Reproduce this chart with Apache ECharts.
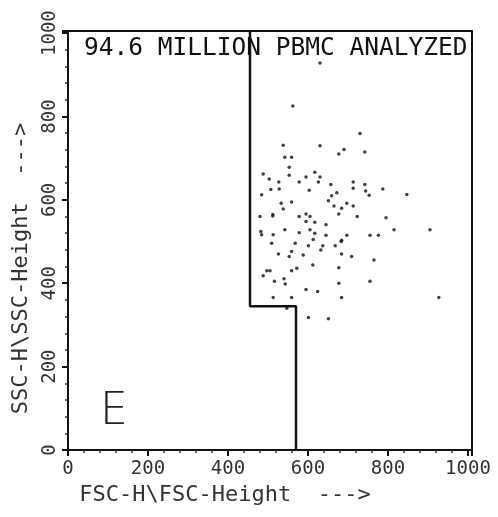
<!DOCTYPE html>
<html>
<head>
<meta charset="utf-8">
<script src="https://cdn.jsdelivr.net/npm/echarts@6/dist/echarts.min.js"></script>
<style>
  html, body { margin: 0; padding: 0; background: #fff; }
  #chart { width: 498px; height: 517px; }
</style>
</head>
<body>
<div id="chart"></div>
<script>
// Events inside the gate: forward scatter (FSC-H) and side scatter (SSC-H)
const fscValues = [
  562, 730, 538, 630, 690, 677, 742, 542, 559, 553, 553, 488, 503, 527, 595, 617,
  630, 578, 626, 657, 713, 742, 713, 787, 528, 507, 603, 744, 753, 847, 484, 672,
  659, 559, 651, 533, 697, 713, 665, 684, 538, 512, 480, 512, 578, 595, 605, 677,
  723, 795, 595, 617, 645, 542, 482, 484, 513, 578, 605, 617, 645, 697, 755, 776,
  815, 905, 613, 684, 509, 568, 601, 637, 668, 683, 632, 559, 588, 526, 553, 684,
  709, 765, 612, 572, 559, 677, 497, 488, 516, 540, 543, 595, 624, 677, 755, 513,
  559, 684, 927, 547, 601, 651, 505, 630
];
const sscValues = [
  825, 759, 731, 730, 721, 710, 715, 702, 702, 678, 659, 662, 650, 643, 655, 666,
  655, 643, 643, 637, 643, 637, 628, 626, 626, 625, 623, 621, 611, 613, 612, 617,
  610, 595, 598, 592, 592, 585, 585, 580, 578, 565, 560, 561, 560, 566, 560, 566,
  560, 557, 548, 546, 540, 528, 524, 516, 516, 521, 528, 520, 515, 515, 515, 515,
  528, 528, 505, 503, 496, 496, 490, 490, 490, 500, 480, 476, 468, 470, 464, 470,
  464, 456, 444, 436, 430, 437, 430, 418, 405, 411, 398, 385, 380, 400, 405, 366,
  366, 366, 366, 340, 318, 315, 430, 928
];

// Gate outline (FSC, SSC) vertices
const gateFsc = [455, 455, 570, 570];
const gateSsc = [1005, 345, 345, 0];

// Axis tick labels
const xTickLabels = ['0', '200', '400', '600', '800', '1000'];
const yTickLabels = ['0', '200', '400', '600', '800', '1000'];

const titleText = '94.6 MILLION PBMC ANALYZED';
const xAxisName = 'FSC-H\\FSC-Height  --->';
const yAxisName = 'SSC-H\\SSC-Height  --->';
const panelLetter = 'E';

const FONT = '"DejaVu Sans Mono", "Liberation Mono", monospace';

const events = fscValues.map((x, i) => [x, sscValues[i]]);
const gate = gateFsc.map((x, i) => [x, gateSsc[i]]);

const tickLabel = (labels) => (v) => {
  const idx = Math.round(v / 200);
  return (v % 200 === 0 && labels[idx] !== undefined) ? labels[idx] : '';
};

const chart = echarts.init(document.getElementById('chart'), null, { renderer: 'canvas' });
chart.setOption({
  animation: false,
  backgroundColor: '#ffffff',
  grid: {
    left: 68, right: 26, top: 31, bottom: 67,
    show: true, borderColor: '#111', borderWidth: 2, backgroundColor: 'transparent'
  },
  xAxis: {
    type: 'value', min: 0, max: 1010, interval: 200,
    name: xAxisName, nameLocation: 'middle', nameGap: 34,
    nameTextStyle: { fontFamily: FONT, fontSize: 22, color: '#333', padding: [0, 90, 0, 0] },
    axisLine: { show: true, lineStyle: { color: '#111', width: 2 } },
    axisTick: { show: true, inside: false, length: 6, lineStyle: { color: '#111', width: 2 } },
    minorTick: { show: true, splitNumber: 5, length: 3, lineStyle: { color: '#333', width: 1.5 } },
    splitLine: { show: false },
    axisLabel: { fontFamily: FONT, fontSize: 19, color: '#333', margin: 10, formatter: tickLabel(xTickLabels) }
  },
  yAxis: {
    type: 'value', min: 0, max: 1005, interval: 200,
    name: yAxisName, nameLocation: 'middle', nameGap: 36,
    nameTextStyle: { fontFamily: FONT, fontSize: 22, color: '#333', padding: [0, 56, 0, 0] },
    axisLine: { show: true, lineStyle: { color: '#111', width: 2 } },
    axisTick: { show: true, inside: false, length: 6, lineStyle: { color: '#111', width: 2 } },
    minorTick: { show: true, splitNumber: 5, length: 3, lineStyle: { color: '#333', width: 1.5 } },
    splitLine: { show: false },
    axisLabel: { fontFamily: FONT, fontSize: 19, color: '#333', margin: 8, rotate: 90, formatter: tickLabel(yTickLabels) }
  },
  graphic: [
    {
      type: 'text', left: 84, top: 36,
      style: { text: titleText, font: '24.5px ' + FONT, fill: '#111' }
    },
    {
      type: 'text', left: 100, top: 391,
      style: { text: panelLetter, font: '200 44px "DejaVu Sans", sans-serif', fill: '#222' }
    }
  ],
  series: [
    {
      type: 'line', data: gate, symbol: 'none',
      lineStyle: { color: '#111', width: 2.5 }, z: 3
    },
    {
      type: 'scatter', data: events, symbol: 'circle', symbolSize: 3.5,
      itemStyle: { color: '#111' }, z: 4
    }
  ]
});
</script>
</body>
</html>
